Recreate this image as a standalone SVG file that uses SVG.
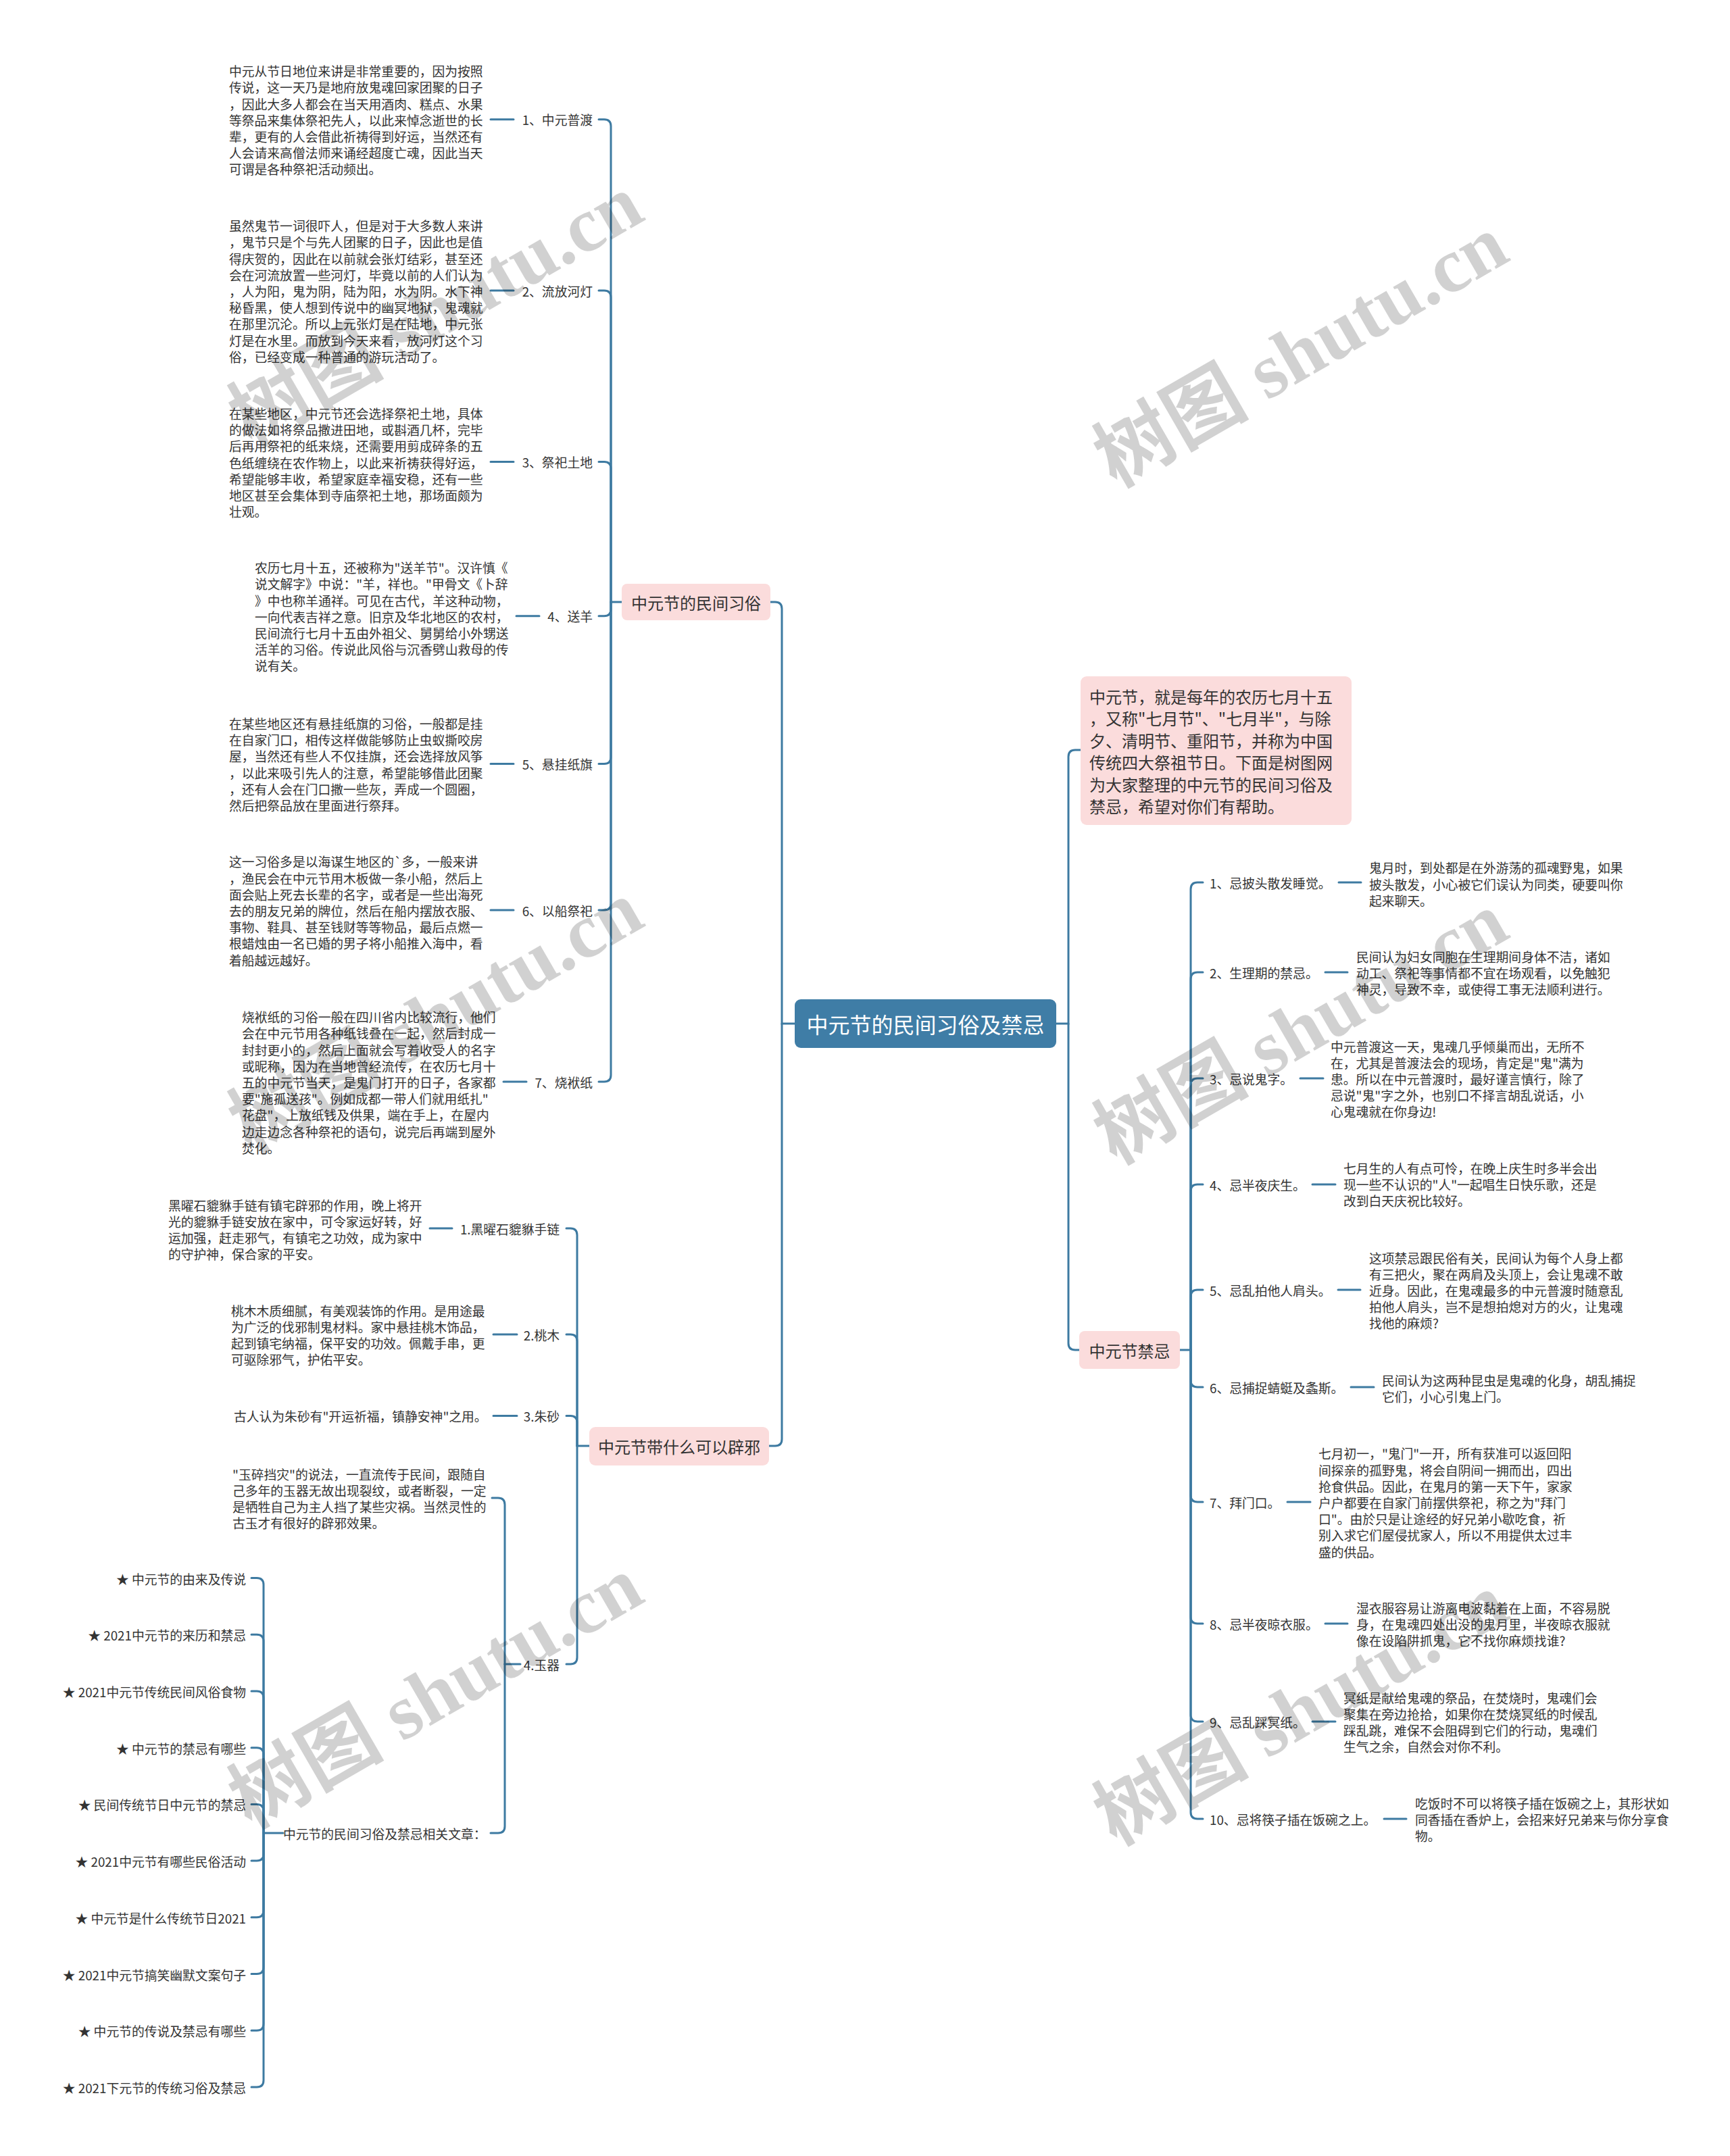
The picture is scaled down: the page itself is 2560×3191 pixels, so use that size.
<svg xmlns="http://www.w3.org/2000/svg" width="2560" height="3191" viewBox="0 0 2560 3191">
<style>
.t{font-family:"Noto Sans CJK SC","Liberation Sans",sans-serif;font-size:18.8px;fill:#333;dominant-baseline:central}
.e{text-anchor:end}
.n2{font-family:"Noto Sans CJK SC","Liberation Sans",sans-serif;font-size:24px;fill:#333;dominant-baseline:central}
.c{text-anchor:middle}
.box{fill:#fbdcdc}
.ln{fill:none;stroke:#3d7aa1;stroke-width:3;stroke-linecap:round}
.wm{font-family:"Liberation Serif","Noto Sans CJK SC",serif;font-size:115px;font-weight:bold;fill:#000;fill-opacity:0.18;text-anchor:middle;dominant-baseline:central}
</style>
<rect width="2560" height="3191" fill="#fff"/>

<g id="connectors" class="ln">
<path d="M1176 1515H1157V901Q1157 891 1147 891H1140"/>
<path d="M1157 1515V2130Q1157 2140 1147 2140H1138"/>
<path d="M1563 1515H1581V1120Q1581 1110 1591 1110H1599"/>
<path d="M1581 1515V1988Q1581 1998 1591 1998H1597"/>
<!-- branch customs -->
<path d="M920 891H904"/>
<path d="M904 891V186.7Q904 176.7 894 176.7H886"/>
<path d="M904 891V440Q904 430 894 430H886"/>
<path d="M904 891V693.5Q904 683.5 894 683.5H886"/>
<path d="M904 891V901.7Q904 911.7 894 911.7H886"/>
<path d="M904 891V1120.5Q904 1130.5 894 1130.5H886"/>
<path d="M904 891V1337Q904 1347 894 1347H886"/>
<path d="M904 891V1591Q904 1601 894 1601H886"/>
<path d="M726 176.7H760M726 430H760M726 683.5H760M764 911.7H798M726 1130.5H760M726 1347H760M745 1601H779"/>
<!-- branch bixie -->
<path d="M872 2140H854"/>
<path d="M854 2140V1828Q854 1818 844 1818H838"/>
<path d="M854 2140V1985Q854 1975 844 1975H838"/>
<path d="M854 2140V2105.6Q854 2095.6 844 2095.6H838"/>
<path d="M854 2140V2453Q854 2463 844 2463H838"/>
<path d="M636 1818H669M730 1975H765M730 2095.6H765"/>
<path d="M770 2463H747"/>
<path d="M747 2463V2227Q747 2217 737 2217H728"/>
<path d="M747 2463V2703Q747 2713 737 2713H726"/>
<!-- related articles -->
<path d="M419 2713H390"/>
<path d="M390 2713V2345.6Q390 2335.6 380 2335.6H372"/>
<path d="M390 2713V2429.3Q390 2419.3 380 2419.3H372"/>
<path d="M390 2713V2513Q390 2503 380 2503H372"/>
<path d="M390 2713V2596.7Q390 2586.7 380 2586.7H372"/>
<path d="M390 2713V2680.4Q390 2670.4 380 2670.4H372"/>
<path d="M390 2713V2744.1Q390 2754.1 380 2754.1H372"/>
<path d="M390 2713V2827.8Q390 2837.8 380 2837.8H372"/>
<path d="M390 2713V2911.5Q390 2921.5 380 2921.5H372"/>
<path d="M390 2713V2995.2Q390 3005.2 380 3005.2H372"/>
<path d="M390 2713V3078.9Q390 3088.9 380 3088.9H372"/>
<!-- branch taboos -->
<path d="M1746 1998H1762"/>
<path d="M1762 1998V1316Q1762 1306 1772 1306H1780"/>
<path d="M1762 1998V1449Q1762 1439 1772 1439H1780"/>
<path d="M1762 1998V1606Q1762 1596 1772 1596H1780"/>
<path d="M1762 1998V1763Q1762 1753 1772 1753H1780"/>
<path d="M1762 1998V1919Q1762 1909 1772 1909H1780"/>
<path d="M1762 1998V2043Q1762 2053 1772 2053H1780"/>
<path d="M1762 1998V2213Q1762 2223 1772 2223H1780"/>
<path d="M1762 1998V2393Q1762 2403 1772 2403H1780"/>
<path d="M1762 1998V2538Q1762 2548 1772 2548H1780"/>
<path d="M1762 1998V2682Q1762 2692 1772 2692H1780"/>
<path d="M1981 1306H2014M1961 1439H1994M1924 1596H1958M1942 1753H1976M1980 1909H2013M1999 2053H2033M1905 2223H1939M1961 2403H1994M1942 2548H1976M2048 2692H2081"/>
</g>

<g id="root">
<rect x="1176" y="1479" width="387" height="72" rx="9" fill="#3f7da6"/>
<text x="1369.5" y="1515" class="c" style="font-family:'Noto Sans CJK SC',sans-serif;font-size:32px;fill:#fff;dominant-baseline:central">中元节的民间习俗及禁忌</text>
</g>

<g id="intro">
<rect x="1599" y="1001" width="401" height="220" rx="9" class="box"/>
<text class="n2"><tspan x="1612" y="1030">中元节，就是每年的农历七月十五</tspan><tspan x="1612" y="1062.4">，又称"七月节"、"七月半"，与除</tspan><tspan x="1612" y="1094.8">夕、清明节、重阳节，并称为中国</tspan><tspan x="1612" y="1127.2">传统四大祭祖节日。下面是树图网</tspan><tspan x="1612" y="1159.6">为大家整理的中元节的民间习俗及</tspan><tspan x="1612" y="1192">禁忌，希望对你们有帮助。</tspan></text>
</g>

<g id="customs">
<rect x="920" y="864" width="220" height="54" rx="8" class="box"/>
<text x="1030" y="891" class="n2 c">中元节的民间习俗</text>
</g>

<g id="c1">
<text x="877" y="176.7" class="t e">1、中元普渡</text>
<text class="t"><tspan x="339" y="104.1">中元从节日地位来讲是非常重要的，因为按照</tspan><tspan x="339" y="128.3">传说，这一天乃是地府放鬼魂回家团聚的日子</tspan><tspan x="339" y="152.5">，因此大多人都会在当天用酒肉、糕点、水果</tspan><tspan x="339" y="176.7">等祭品来集体祭祀先人，以此来悼念逝世的长</tspan><tspan x="339" y="200.9">辈，更有的人会借此祈祷得到好运，当然还有</tspan><tspan x="339" y="225.1">人会请来高僧法师来诵经超度亡魂，因此当天</tspan><tspan x="339" y="249.3">可谓是各种祭祀活动频出。</tspan></text>
</g>
<g id="c2">
<text x="877" y="430" class="t e">2、流放河灯</text>
<text class="t"><tspan x="339" y="333.2">虽然鬼节一词很吓人，但是对于大多数人来讲</tspan><tspan x="339" y="357.4">，鬼节只是个与先人团聚的日子，因此也是值</tspan><tspan x="339" y="381.6">得庆贺的，因此在以前就会张灯结彩，甚至还</tspan><tspan x="339" y="405.8">会在河流放置一些河灯，毕竟以前的人们认为</tspan><tspan x="339" y="430">，人为阳，鬼为阴，陆为阳，水为阴。水下神</tspan><tspan x="339" y="454.2">秘昏黑，使人想到传说中的幽冥地狱，鬼魂就</tspan><tspan x="339" y="478.4">在那里沉沦。所以上元张灯是在陆地，中元张</tspan><tspan x="339" y="502.6">灯是在水里。而放到今天来看，放河灯这个习</tspan><tspan x="339" y="526.8">俗，已经变成一种普通的游玩活动了。</tspan></text>
</g>
<g id="c3">
<text x="877" y="683.5" class="t e">3、祭祀土地</text>
<text class="t"><tspan x="339" y="610.9">在某些地区，中元节还会选择祭祀土地，具体</tspan><tspan x="339" y="635.1">的做法如将祭品撒进田地，或斟酒几杯，完毕</tspan><tspan x="339" y="659.3">后再用祭祀的纸来烧，还需要用剪成碎条的五</tspan><tspan x="339" y="683.5">色纸缠绕在农作物上，以此来祈祷获得好运，</tspan><tspan x="339" y="707.7">希望能够丰收，希望家庭幸福安稳，还有一些</tspan><tspan x="339" y="731.9">地区甚至会集体到寺庙祭祀土地，那场面颇为</tspan><tspan x="339" y="756.1">壮观。</tspan></text>
</g>
<g id="c4">
<text x="877" y="911.7" class="t e">4、送羊</text>
<text class="t"><tspan x="377" y="839.1">农历七月十五，还被称为"送羊节"。汉许慎《</tspan><tspan x="377" y="863.3">说文解字》中说："羊，祥也。"甲骨文《卜辞</tspan><tspan x="377" y="887.5">》中也称羊通祥。可见在古代，羊这种动物，</tspan><tspan x="377" y="911.7">一向代表吉祥之意。旧京及华北地区的农村，</tspan><tspan x="377" y="935.9">民间流行七月十五由外祖父、舅舅给小外甥送</tspan><tspan x="377" y="960.1">活羊的习俗。传说此风俗与沉香劈山救母的传</tspan><tspan x="377" y="984.3">说有关。</tspan></text>
</g>
<g id="c5">
<text x="877" y="1130.5" class="t e">5、悬挂纸旗</text>
<text class="t"><tspan x="339" y="1070">在某些地区还有悬挂纸旗的习俗，一般都是挂</tspan><tspan x="339" y="1094.2">在自家门口，相传这样做能够防止虫蚁撕咬房</tspan><tspan x="339" y="1118.4">屋，当然还有些人不仅挂旗，还会选择放风筝</tspan><tspan x="339" y="1142.6">，以此来吸引先人的注意，希望能够借此团聚</tspan><tspan x="339" y="1166.8">，还有人会在门口撒一些灰，弄成一个圆圈，</tspan><tspan x="339" y="1191">然后把祭品放在里面进行祭拜。</tspan></text>
</g>
<g id="c6">
<text x="877" y="1347" class="t e">6、以船祭祀</text>
<text class="t"><tspan x="339" y="1274.4">这一习俗多是以海谋生地区的`多，一般来讲</tspan><tspan x="339" y="1298.6">，渔民会在中元节用木板做一条小船，然后上</tspan><tspan x="339" y="1322.8">面会贴上死去长辈的名字，或者是一些出海死</tspan><tspan x="339" y="1347">去的朋友兄弟的牌位，然后在船内摆放衣服、</tspan><tspan x="339" y="1371.2">事物、鞋具、甚至钱财等等物品，最后点燃一</tspan><tspan x="339" y="1395.4">根蜡烛由一名已婚的男子将小船推入海中，看</tspan><tspan x="339" y="1419.6">着船越远越好。</tspan></text>
</g>
<g id="c7">
<text x="877" y="1601" class="t e">7、烧袱纸</text>
<text class="t"><tspan x="358" y="1504.2">烧袱纸的习俗一般在四川省内比较流行，他们</tspan><tspan x="358" y="1528.4">会在中元节用各种纸钱叠在一起，然后封成一</tspan><tspan x="358" y="1552.6">封封更小的，然后上面就会写着收受人的名字</tspan><tspan x="358" y="1576.8">或昵称，因为在当地曾经流传，在农历七月十</tspan><tspan x="358" y="1601">五的中元节当天，是鬼门打开的日子，各家都</tspan><tspan x="358" y="1625.2">要"施孤送孩"。例如成都一带人们就用纸扎"</tspan><tspan x="358" y="1649.4">花盘"，上放纸钱及供果，端在手上，在屋内</tspan><tspan x="358" y="1673.6">边走边念各种祭祀的语句，说完后再端到屋外</tspan><tspan x="358" y="1697.8">焚化。</tspan></text>
</g>

<g id="bixie">
<rect x="872" y="2112" width="266" height="57" rx="9" class="box"/>
<text x="1005" y="2140.5" class="n2 c">中元节带什么可以辟邪</text>
</g>
<g id="b1">
<text x="828" y="1818" class="t e">1.黑曜石貔貅手链</text>
<text class="t"><tspan x="249" y="1782.7">黑曜石貔貅手链有镇宅辟邪的作用，晚上将开</tspan><tspan x="249" y="1806.9">光的貔貅手链安放在家中，可令家运好转，好</tspan><tspan x="249" y="1831.1">运加强，赶走邪气，有镇宅之功效，成为家中</tspan><tspan x="249" y="1855.3">的守护神，保合家的平安。</tspan></text>
</g>
<g id="b2">
<text x="828" y="1975" class="t e">2.桃木</text>
<text class="t"><tspan x="342" y="1938.7">桃木木质细腻，有美观装饰的作用。是用途最</tspan><tspan x="342" y="1962.9">为广泛的伐邪制鬼材料。家中悬挂桃木饰品，</tspan><tspan x="342" y="1987.1">起到镇宅纳福，保平安的功效。佩戴手串，更</tspan><tspan x="342" y="2011.3">可驱除邪气，护佑平安。</tspan></text>
</g>
<g id="b3">
<text x="828" y="2095.6" class="t e">3.朱砂</text>
<text x="346" y="2095.6" class="t">古人认为朱砂有"开运祈福，镇静安神"之用。</text>
</g>
<g id="b4">
<text x="828" y="2463" class="t e">4.玉器</text>
<text class="t"><tspan x="344" y="2180.7">"玉碎挡灾"的说法，一直流传于民间，跟随自</tspan><tspan x="344" y="2204.9">己多年的玉器无故出现裂纹，或者断裂，一定</tspan><tspan x="344" y="2229.1">是牺牲自己为主人挡了某些灾祸。当然灵性的</tspan><tspan x="344" y="2253.3">古玉才有很好的辟邪效果。</tspan></text>
</g>
<g id="related">
<text x="419" y="2713" class="t">中元节的民间习俗及禁忌相关文章：</text>
<text class="t e"><tspan x="364" y="2335.6">★ 中元节的由来及传说</tspan><tspan x="364" y="2419.3">★ 2021中元节的来历和禁忌</tspan><tspan x="364" y="2503">★ 2021中元节传统民间风俗食物</tspan><tspan x="364" y="2586.7">★ 中元节的禁忌有哪些</tspan><tspan x="364" y="2670.4">★ 民间传统节日中元节的禁忌</tspan><tspan x="364" y="2754.1">★ 2021中元节有哪些民俗活动</tspan><tspan x="364" y="2837.8">★ 中元节是什么传统节日2021</tspan><tspan x="364" y="2921.5">★ 2021中元节搞笑幽默文案句子</tspan><tspan x="364" y="3005.2">★ 中元节的传说及禁忌有哪些</tspan><tspan x="364" y="3088.9">★ 2021下元节的传统习俗及禁忌</tspan></text>
</g>

<g id="taboos">
<rect x="1597" y="1970" width="149" height="56" rx="8" class="box"/>
<text x="1671.5" y="1998" class="n2 c">中元节禁忌</text>
</g>
<g id="t1">
<text x="1790" y="1306" class="t">1、忌披头散发睡觉。</text>
<text class="t"><tspan x="2026" y="1283.3">鬼月时，到处都是在外游荡的孤魂野鬼，如果</tspan><tspan x="2026" y="1307.5">披头散发，小心被它们误认为同类，硬要叫你</tspan><tspan x="2026" y="1331.7">起来聊天。</tspan></text>
</g>
<g id="t2">
<text x="1790" y="1439" class="t">2、生理期的禁忌。</text>
<text class="t"><tspan x="2007" y="1414.8">民间认为妇女同胞在生理期间身体不洁，诸如</tspan><tspan x="2007" y="1439">动工、祭祀等事情都不宜在场观看，以免触犯</tspan><tspan x="2007" y="1463.2">神灵，导致不幸，或使得工事无法顺利进行。</tspan></text>
</g>
<g id="t3">
<text x="1790" y="1596" class="t">3、忌说鬼字。</text>
<text class="t"><tspan x="1969" y="1547.6">中元普渡这一天，鬼魂几乎倾巢而出，无所不</tspan><tspan x="1969" y="1571.8">在，尤其是普渡法会的现场，肯定是"鬼"满为</tspan><tspan x="1969" y="1596">患。所以在中元普渡时，最好谨言慎行，除了</tspan><tspan x="1969" y="1620.2">忌说"鬼"字之外，也别口不择言胡乱说话，小</tspan><tspan x="1969" y="1644.4">心鬼魂就在你身边!</tspan></text>
</g>
<g id="t4">
<text x="1790" y="1753" class="t">4、忌半夜庆生。</text>
<text class="t"><tspan x="1988" y="1727.8">七月生的人有点可怜，在晚上庆生时多半会出</tspan><tspan x="1988" y="1752">现一些不认识的"人"一起唱生日快乐歌，还是</tspan><tspan x="1988" y="1776.2">改到白天庆祝比较好。</tspan></text>
</g>
<g id="t5">
<text x="1790" y="1909" class="t">5、忌乱拍他人肩头。</text>
<text class="t"><tspan x="2026" y="1860.6">这项禁忌跟民俗有关，民间认为每个人身上都</tspan><tspan x="2026" y="1884.8">有三把火，聚在两肩及头顶上，会让鬼魂不敢</tspan><tspan x="2026" y="1909">近身。因此，在鬼魂最多的中元普渡时随意乱</tspan><tspan x="2026" y="1933.2">拍他人肩头，岂不是想拍熄对方的火，让鬼魂</tspan><tspan x="2026" y="1957.4">找他的麻烦?</tspan></text>
</g>
<g id="t6">
<text x="1790" y="2053" class="t">6、忌捕捉蜻蜓及螽斯。</text>
<text class="t"><tspan x="2045" y="2041.9">民间认为这两种昆虫是鬼魂的化身，胡乱捕捉</tspan><tspan x="2045" y="2066.1">它们，小心引鬼上门。</tspan></text>
</g>
<g id="t7">
<text x="1790" y="2223" class="t">7、拜门口。</text>
<text class="t"><tspan x="1951" y="2150.4">七月初一，"鬼门"一开，所有获准可以返回阳</tspan><tspan x="1951" y="2174.6">间探亲的孤野鬼，将会自阴间一拥而出，四出</tspan><tspan x="1951" y="2198.8">抢食供品。因此，在鬼月的第一天下午，家家</tspan><tspan x="1951" y="2223">户户都要在自家门前摆供祭祀，称之为"拜门</tspan><tspan x="1951" y="2247.2">口"。由於只是让途经的好兄弟小歇吃食，祈</tspan><tspan x="1951" y="2271.4">别入求它们屋侵扰家人，所以不用提供太过丰</tspan><tspan x="1951" y="2295.6">盛的供品。</tspan></text>
</g>
<g id="t8">
<text x="1790" y="2403" class="t">8、忌半夜晾衣服。</text>
<text class="t"><tspan x="2007" y="2378.8">湿衣服容易让游离电波黏着在上面，不容易脱</tspan><tspan x="2007" y="2403">身，在鬼魂四处出没的鬼月里，半夜晾衣服就</tspan><tspan x="2007" y="2427.2">像在设陷阱抓鬼，它不找你麻烦找谁?</tspan></text>
</g>
<g id="t9">
<text x="1790" y="2548" class="t">9、忌乱踩冥纸。</text>
<text class="t"><tspan x="1988" y="2511.7">冥纸是献给鬼魂的祭品，在焚烧时，鬼魂们会</tspan><tspan x="1988" y="2535.9">聚集在旁边抢拾，如果你在焚烧冥纸的时候乱</tspan><tspan x="1988" y="2560.1">踩乱跳，难保不会阻碍到它们的行动，鬼魂们</tspan><tspan x="1988" y="2584.3">生气之余，自然会对你不利。</tspan></text>
</g>
<g id="t10">
<text x="1790" y="2692" class="t">10、忌将筷子插在饭碗之上。</text>
<text class="t"><tspan x="2094" y="2667.8">吃饭时不可以将筷子插在饭碗之上，其形状如</tspan><tspan x="2094" y="2692">同香插在香炉上，会招来好兄弟来与你分享食</tspan><tspan x="2094" y="2716.2">物。</tspan></text>
</g>

<g id="watermarks">
<text class="wm" transform="translate(645 460) rotate(-30)">树图 shutu.cn</text>
<text class="wm" transform="translate(1925 520) rotate(-30)">树图 shutu.cn</text>
<text class="wm" transform="translate(645 1505) rotate(-30)">树图 shutu.cn</text>
<text class="wm" transform="translate(1925 1522) rotate(-30)">树图 shutu.cn</text>
<text class="wm" transform="translate(645 2505) rotate(-30)">树图 shutu.cn</text>
<text class="wm" transform="translate(1925 2530) rotate(-30)">树图 shutu.cn</text>
</g>
</svg>
